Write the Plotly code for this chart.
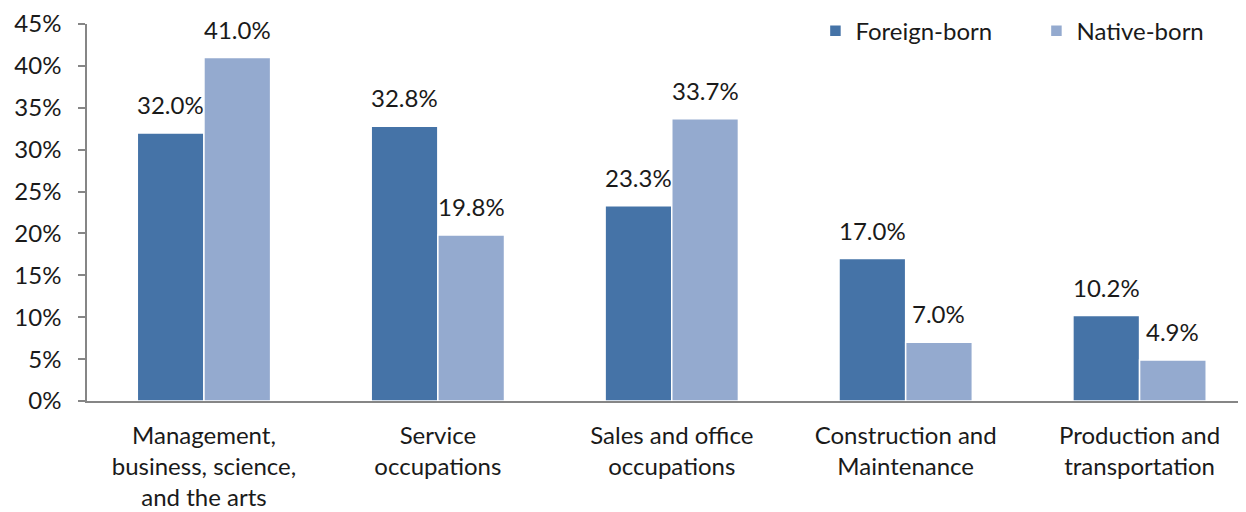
import plotly.graph_objects as go

categories = ["Management,<br>business, science,<br>and the arts",
              "Service<br>occupations",
              "Sales and office<br>occupations",
              "Construction and<br>Maintenance",
              "Production and<br>transportation"]
foreign_born = [32.0, 32.8, 23.3, 17.0, 10.2]
native_born = [41.0, 19.8, 33.7, 7.0, 4.9]
y_ticks = [0, 5, 10, 15, 20, 25, 30, 35, 40, 45]

FONT = "Lato"
FS = 24
c_foreign = "#4573A7"
c_native = "#94AACF"

fig = go.Figure()
fig.add_trace(go.Bar(name="Foreign-born", x=categories, y=foreign_born,
                     marker=dict(color=c_foreign, line=dict(color="white", width=1.5))))
fig.add_trace(go.Bar(name="Native-born", x=categories, y=native_born,
                     marker=dict(color=c_native, line=dict(color="white", width=1.5))))

annotations = []
for i, c in enumerate(categories):
    for v, off in ((foreign_born[i], -0.5), (native_born[i], 0.5)):
        annotations.append(dict(x=c, y=v, text=f"{v:.1f}%", showarrow=False,
                                xref="x", yref="y", yanchor="bottom",
                                xshift=off * 66.5, yshift=12,
                                font=dict(family=FONT, size=FS, color="#1a1a1a")))

fig.update_layout(
    width=1238, height=504,
    margin=dict(l=79, r=0, t=16, b=111, autoexpand=False),
    paper_bgcolor="white", plot_bgcolor="white",
    barmode="group", bargap=0.43, bargroupgap=0,
    font=dict(family=FONT, size=FS, color="#1a1a1a"),
    annotations=annotations,
    legend=dict(orientation="h", x=0.6285, xanchor="left", y=0.981, yanchor="middle",
                font=dict(family=FONT, size=FS, color="#1a1a1a"),
                entrywidth=176, entrywidthmode="pixels", itemwidth=30,
                bgcolor="rgba(0,0,0,0)"),
    showlegend=True,
)
fig.update_xaxes(range=[-0.5, 4.455], showline=True, linecolor="#868686", linewidth=1.5,
                 ticks="", showgrid=False, automargin=False, ticklabelstandoff=12,
                 tickfont=dict(family=FONT, size=FS))
fig.update_yaxes(range=[0, 45], tickvals=y_ticks, ticktext=[f"{t}%" for t in y_ticks],
                 showline=True, linecolor="#868686", linewidth=1.5,
                 ticks="outside", ticklen=7, tickcolor="#868686", tickwidth=1.5,
                 showgrid=False, zeroline=False, ticklabelstandoff=12, automargin=False,
                 tickfont=dict(family=FONT, size=FS))

fig.write_html("out.html")
